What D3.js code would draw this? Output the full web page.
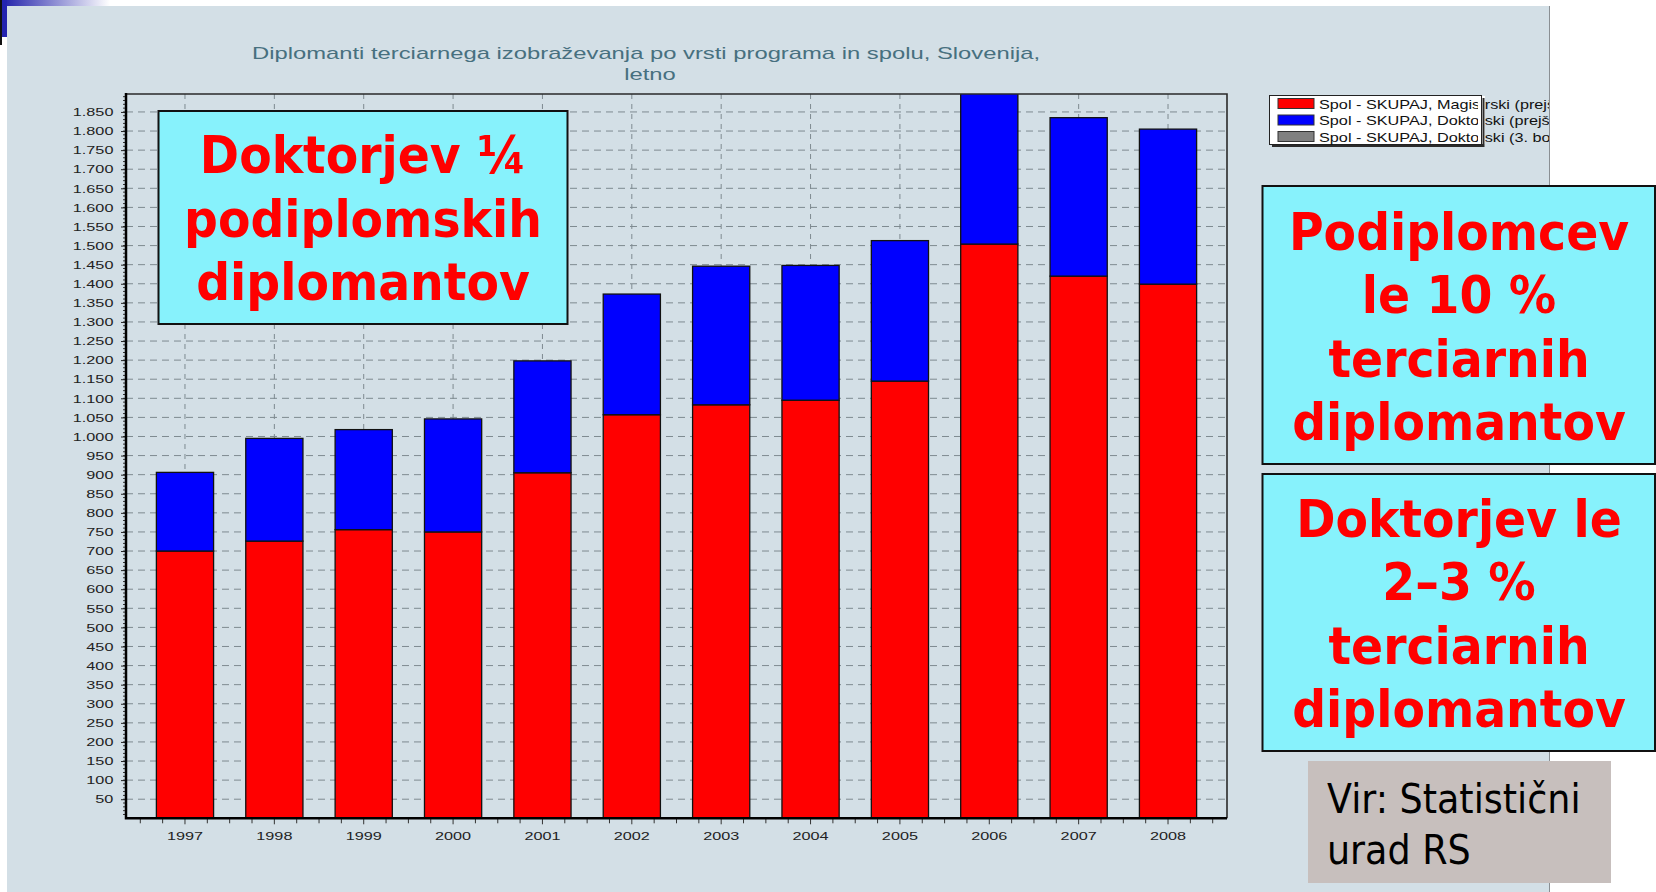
<!DOCTYPE html>
<html>
<head>
<meta charset="utf-8">
<script src="https://cdn.jsdelivr.net/npm/d3@7"></script>
<style>
  body { margin: 0; background: #ffffff; }
  svg { display: block; }
</style>
</head>
<body>
<div id="chart"></div>
<script>
// Data
const years = ["1997", "1998", "1999", "2000", "2001", "2002", "2003", "2004", "2005", "2006", "2007", "2008"];
const magistrski = [700, 726, 756, 750, 905, 1057, 1083, 1095, 1145, 1504, 1420, 1399];
const doktorski = [206, 269, 262, 296, 293, 316, 363, 353, 368, 430, 415, 406];
const doktorskiBolonjski = [0, 0, 0, 0, 0, 0, 0, 0, 0, 0, 0, 0];

const seriesKeys = ["mag", "dok", "dok3"];
const seriesNames = [
    "Spol - SKUPAJ, Magistrski (prejšnji)",
    "Spol - SKUPAJ, Doktorski (prejšnji)",
    "Spol - SKUPAJ, Doktorski (3. bolonjska stopnja)"
];
const seriesColors = ["#FF0000", "#0000FF", "#808080"];

const yTickValues = d3.range(50, 1851, 50);

const titleLines = ["Diplomanti terciarnega izobraževanja po vrsti programa in spolu, Slovenija,", "letno"];
const noteLeft = ["Doktorjev ¼", "podiplomskih", "diplomantov"];
const noteRightTop = ["Podiplomcev", "le 10 %", "terciarnih", "diplomantov"];
const noteRightBottom = ["Doktorjev le", "2–3 %", "terciarnih", "diplomantov"];
const sourceLines = ["Vir: Statistični", "urad RS"];

const data = years.map((y, i) => ({
    year: y,
    mag: magistrski[i],
    dok: doktorski[i],
    dok3: doktorskiBolonjski[i]
}));

const W = 1656, H = 892;
const plot = { left: 126, right: 1227, top: 94, bottom: 818.3 };

const svg = d3.select("#chart")
    .append("svg")
        .attr("width", W)
        .attr("height", H)
        .attr("viewBox", `0 0 ${W} ${H}`);

const defs = svg.append("defs");
const grad = defs.append("linearGradient").attr("id", "topGrad");
grad.append("stop").attr("offset", "0%").attr("stop-color", "#1c1ca8");
grad.append("stop").attr("offset", "100%").attr("stop-color", "#ffffff");

defs.append("clipPath").attr("id", "plotClip")
    .append("rect")
        .attr("x", plot.left)
        .attr("y", plot.top)
        .attr("width", plot.right - plot.left)
        .attr("height", plot.bottom - plot.top);

defs.append("clipPath").attr("id", "panelClip")
    .append("rect")
        .attr("x", 7)
        .attr("y", 6)
        .attr("width", 1542)
        .attr("height", H - 6);

// Slide decoration top left
svg.append("rect").attr("x", 0).attr("y", 0).attr("width", 110).attr("height", 6).attr("fill", "url(#topGrad)");
svg.append("rect").attr("x", 0).attr("y", 0).attr("width", 7).attr("height", 37).attr("fill", "#2424b0");
svg.append("line").attr("x1", 1).attr("y1", 0).attr("x2", 1).attr("y2", 45).attr("stroke", "#111").attr("stroke-width", 2);

// Chart panel
svg.append("rect")
    .attr("x", 7)
    .attr("y", 6)
    .attr("width", 1542)
    .attr("height", H - 6)
    .attr("fill", "#d3dfe6");
svg.append("line")
    .attr("x1", 1549.5).attr("y1", 6)
    .attr("x2", 1549.5).attr("y2", H)
    .attr("stroke", "#8a8f93");

// Title
svg.append("g")
    .selectAll("text")
    .data(titleLines)
    .join("text")
        .attr("transform", (d, i) => `translate(${i === 0 ? 646 : 650}, ${i === 0 ? 59 : 80}) scale(1.4,1)`)
        .attr("text-anchor", "middle")
        .style("font-family", "'Liberation Sans', Arial, sans-serif")
        .style("font-size", "17px")
        .style("fill", "#47707f")
        .text(d => d);

// Scales
const xScale = d3.scaleBand()
    .domain(years)
    .range([plot.left, plot.right])
    .paddingInner(0.36)
    .paddingOuter(0.34);

const yScale = d3.scaleLinear()
    .domain([0, 1897])
    .range([plot.bottom, plot.top]);

const bw = xScale.bandwidth();
const step = xScale.step();

// Grid
svg.append("g")
    .selectAll("line")
    .data(yTickValues)
    .join("line")
        .attr("x1", plot.left)
        .attr("x2", plot.right)
        .attr("y1", d => yScale(d))
        .attr("y2", d => yScale(d))
        .attr("stroke", "#7e8a90")
        .attr("stroke-dasharray", "7,5");

svg.append("g")
    .selectAll("line")
    .data(years)
    .join("line")
        .attr("x1", d => xScale(d) + bw / 2)
        .attr("x2", d => xScale(d) + bw / 2)
        .attr("y1", plot.top)
        .attr("y2", plot.bottom)
        .attr("stroke", "#7e8a90")
        .attr("stroke-dasharray", "5,5");

// Stacked bars
const stacked = d3.stack().keys(seriesKeys)(data);

svg.append("g")
    .attr("clip-path", "url(#plotClip)")
    .selectAll("g")
    .data(stacked)
    .join("g")
        .attr("fill", (d, i) => seriesColors[i])
    .selectAll("rect")
    .data(d => d.filter(p => p[1] > p[0]))
    .join("rect")
        .attr("x", d => xScale(d.data.year))
        .attr("width", bw)
        .attr("y", d => yScale(d[1]))
        .attr("height", d => yScale(d[0]) - yScale(d[1]))
        .attr("stroke", "#111")
        .attr("stroke-width", 1.3);

// Frame (top and right)
svg.append("path")
    .attr("d", `M${plot.left},${plot.top}H${plot.right}V${plot.bottom}`)
    .attr("fill", "none")
    .attr("stroke", "#2a2a2a")
    .attr("stroke-width", 1.6);

// Y axis
const fmt = d3.formatLocale({ decimal: ",", thousands: ".", grouping: [3], currency: ["", "€"] }).format(",");

svg.append("g")
    .selectAll("line")
    .data(d3.range(10, 1891, 10))
    .join("line")
        .attr("x1", plot.left - 3)
        .attr("x2", plot.left)
        .attr("y1", d => yScale(d))
        .attr("y2", d => yScale(d))
        .attr("stroke", "#333");

const yAxis = svg.append("g")
    .attr("transform", `translate(${plot.left},0)`)
    .call(d3.axisLeft(yScale).tickValues(yTickValues).tickFormat(fmt).tickSize(5).tickPadding(4));
yAxis.select(".domain").remove();
yAxis.selectAll("line").attr("stroke", "#222");
yAxis.selectAll("text")
    .attr("transform", "scale(1.4,1)")
    .style("font-family", "'Liberation Sans', Arial, sans-serif")
    .style("font-size", "11.6px")
    .style("fill", "#222");

// X axis
const xTicks = [];
years.forEach((y, i) => {
    const c = xScale(y) + bw / 2;
    const ks = i === years.length - 1 ? [-2, -1, 0, 1, 2] : [-2, -1, 0, 1];
    ks.forEach(k => xTicks.push({ x: c + k * step / 4, major: k === 0 }));
});
svg.append("g")
    .selectAll("line")
    .data(xTicks)
    .join("line")
        .attr("x1", d => d.x)
        .attr("x2", d => d.x)
        .attr("y1", plot.bottom)
        .attr("y2", d => plot.bottom + (d.major ? 6 : 5))
        .attr("stroke", "#333");

const xAxis = svg.append("g")
    .attr("transform", `translate(0,${plot.bottom})`)
    .call(d3.axisBottom(xScale).tickSize(0));
xAxis.select(".domain").remove();
xAxis.selectAll("text")
    .attr("y", 22)
    .attr("dy", 0)
    .attr("transform", "scale(1.4,1)")
    .style("font-family", "'Liberation Sans', Arial, sans-serif")
    .style("font-size", "11.6px")
    .style("fill", "#222");

// Axis lines
svg.append("path")
    .attr("d", `M${plot.left},${plot.top - 1}V${plot.bottom}H${plot.right}`)
    .attr("fill", "none")
    .attr("stroke", "#000")
    .attr("stroke-width", 2.5);

// Legend (text runs past the box and is cut by the panel edge)
const legend = svg.append("g").attr("clip-path", "url(#panelClip)");
legend.append("rect")
    .attr("x", 1272).attr("y", 98)
    .attr("width", 212).attr("height", 49)
    .attr("fill", "#2b2b2b");
legend.append("rect")
    .attr("x", 1269.5).attr("y", 95.5)
    .attr("width", 212).attr("height", 49)
    .attr("fill", "#ffffff")
    .attr("stroke", "#222");

const legendRow = legend.selectAll("g.row")
    .data(seriesNames)
    .join("g")
        .attr("class", "row")
        .attr("transform", (d, i) => `translate(1278, ${98.5 + i * 16.5})`);
legendRow.append("rect")
    .attr("width", 36)
    .attr("height", 10)
    .attr("fill", (d, i) => seriesColors[i])
    .attr("stroke", "#333");
legendRow.append("text")
    .attr("transform", "translate(41, 10) scale(1.3,1)")
    .style("font-family", "'Liberation Sans', Arial, sans-serif")
    .style("font-size", "12.5px")
    .style("fill", "#111")
    .text(d => d);

// box right edge drawn over the overflowing text
legend.append("rect")
    .attr("x", 1478).attr("y", 96)
    .attr("width", 7).attr("height", 48)
    .attr("fill", "#ffffff");
legend.append("line")
    .attr("x1", 1481.5).attr("x2", 1481.5)
    .attr("y1", 95.5).attr("y2", 144.5)
    .attr("stroke", "#222");
legend.append("line")
    .attr("x1", 1483.5).attr("x2", 1483.5)
    .attr("y1", 98).attr("y2", 147)
    .attr("stroke", "#2b2b2b")
    .attr("stroke-width", 2);

// Callout boxes
const drawNote = (x, y, w, h, lines, cx, firstBase) => {
    svg.append("rect")
        .attr("x", x).attr("y", y)
        .attr("width", w).attr("height", h)
        .attr("fill", "#87f2fc")
        .attr("stroke", "#111")
        .attr("stroke-width", 2);
    svg.append("g")
        .selectAll("text")
        .data(lines)
        .join("text")
            .attr("transform", (d, i) => `translate(${cx}, ${firstBase + i * 63.4}) scale(0.91,1)`)
            .attr("text-anchor", "middle")
            .style("font-family", "'DejaVu Sans', Verdana, sans-serif")
            .style("font-weight", "bold")
            .style("font-size", "52px")
            .style("fill", "#ff0000")
            .text(d => d);
};

drawNote(158.5, 111, 409, 213, noteLeft, 363, 173.3);
drawNote(1262.5, 186, 392.5, 278, noteRightTop, 1459, 250);
drawNote(1262.5, 474, 392.5, 277, noteRightBottom, 1459, 536.7);

// Source box
svg.append("rect")
    .attr("x", 1308).attr("y", 761)
    .attr("width", 303).attr("height", 122)
    .attr("fill", "#c7bfbd");
svg.append("g")
    .selectAll("text")
    .data(sourceLines)
    .join("text")
        .attr("transform", (d, i) => `translate(1327, ${813 + i * 51}) scale(0.89,1)`)
        .style("font-family", "'DejaVu Sans', Verdana, sans-serif")
        .style("font-size", "41px")
        .style("fill", "#000")
        .text(d => d);
</script>
</body>
</html>
